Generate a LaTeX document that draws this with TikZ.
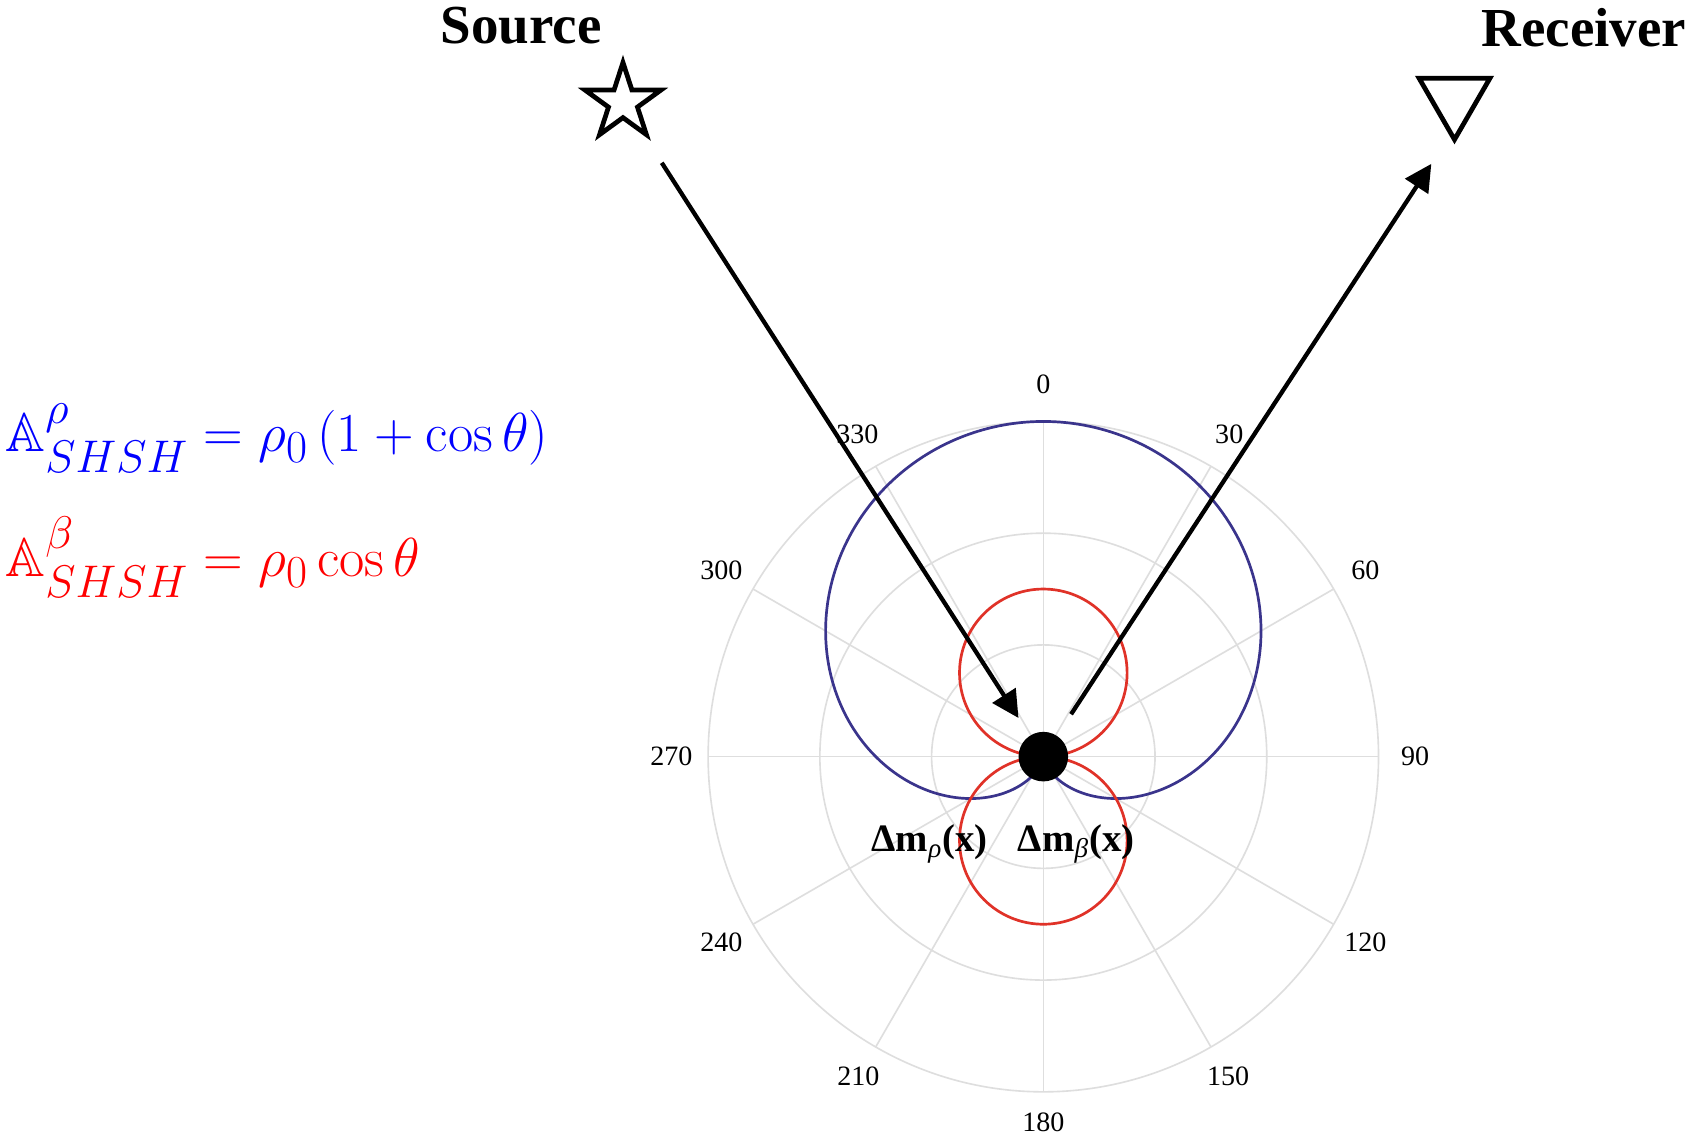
\documentclass[tikz,border=0pt]{standalone}
\usepackage{amssymb}
\usepackage[no-math]{fontspec}
\setmainfont{Liberation Serif}
\usetikzlibrary{shapes.geometric,arrows.meta}
\definecolor{gridgray}{RGB}{222,222,222}
\definecolor{cardblue}{RGB}{58,52,140}
\definecolor{lobered}{RGB}{224,50,40}
\definecolor{eqblue}{RGB}{0,0,255}
\definecolor{eqred}{RGB}{255,0,0}
\begin{document}
\begin{tikzpicture}[x=0.5pt,y=-0.5pt,
  gridline/.style={draw=gridgray,line width=0.75pt},
  polarlab/.style={font=\fontsize{13}{15}\selectfont, inner sep=0pt},
  titlelab/.style={font=\fontsize{25.5}{30}\selectfont\bfseries, inner sep=0pt, anchor=base},
  deltalab/.style={font=\fontsize{18}{22}\selectfont\bfseries, inner sep=0pt, anchor=base},
  eqlab/.style={font=\fontsize{24.88}{30}\selectfont, inner sep=0pt, anchor=base west, scale=1.024, transform shape},
  ray/.style={line width=2pt, -{Triangle[length=12.5pt,width=12.5pt]}},
  curve/.style={line width=1.25pt},
  symbolmark/.style={draw=black, line width=2.2pt, inner sep=0pt},
]
\useasboundingbox (0,0) rectangle (1568,1057);
\fill[white] (0,0) rectangle (1568,1057);
% polar grid
\begin{scope}[shift={(968,702)}]
  \foreach \r in {103.67,207.33,311} \draw[gridline] (0,0) circle[radius=\r];
  \foreach \a in {0,30,...,330} \draw[gridline] (0,0) -- ({311*sin(\a)},{-311*cos(\a)});
  \foreach \a/\rr in {0/345,30/345,60/345,90/345,120/345,150/343,180/339,210/343,240/345,270/345,300/345,330/345}
    \node[polarlab] (lab\a) at ({\rr*sin(\a)},{-\rr*cos(\a)}) {\a};
  % cardioid
  \draw[cardblue,curve] plot[domain=0:360,samples=240,smooth]
      ({155.5*(1+cos(\x))*sin(\x)},{-155.5*(1+cos(\x))*cos(\x)}) -- cycle;
  % cos lobes
  \draw[lobered,curve] (0,-77.75) circle[radius=77.75];
  \draw[lobered,curve] (0,77.75) circle[radius=77.75];
\end{scope}
% scatterer
\node[circle, fill=black, minimum size=23pt, inner sep=0pt] (dot) at (968,702) {};
% source and receiver
\node[star, star points=5, star point ratio=2.618, minimum size=37pt, symbolmark] (star) at (578,95) {};
\node[regular polygon, regular polygon sides=3, shape border rotate=180, minimum size=38pt, symbolmark] (rx) at (1349.5,91.5) {};
\node[titlelab] (srclab) at (483.5,40.8) {Source};
\node[titlelab] (rxlab) at (1469.5,43.3) {Receiver};
% rays
\coordinate (rtip) at (1328,152);
\draw[ray, shorten <=33.3pt, shorten >=21.3pt] (star.center) -- (dot.center);
\draw[ray, shorten <=23.5pt] (dot.center) -- (rtip);
% labels
\node[deltalab] (dmrho) at (862.5,790) {Δm\textsubscript{\normalfont\itshape ρ}(x)};
\node[deltalab] (dmbeta) at (998.5,790) {Δm\textsubscript{\normalfont\itshape β}(x)};
% equations
\node[eqlab, text=eqblue] (eqrho) at (5,419) {$\mathbb{A}^{\rho}_{SHSH} = \rho_0 \left(1+\cos\theta\right)$};
\node[eqlab, text=eqred] (eqbeta) at (5,535) {$\mathbb{A}^{\beta}_{SHSH} = \rho_0 \cos\theta$};
\end{tikzpicture}
\end{document}
